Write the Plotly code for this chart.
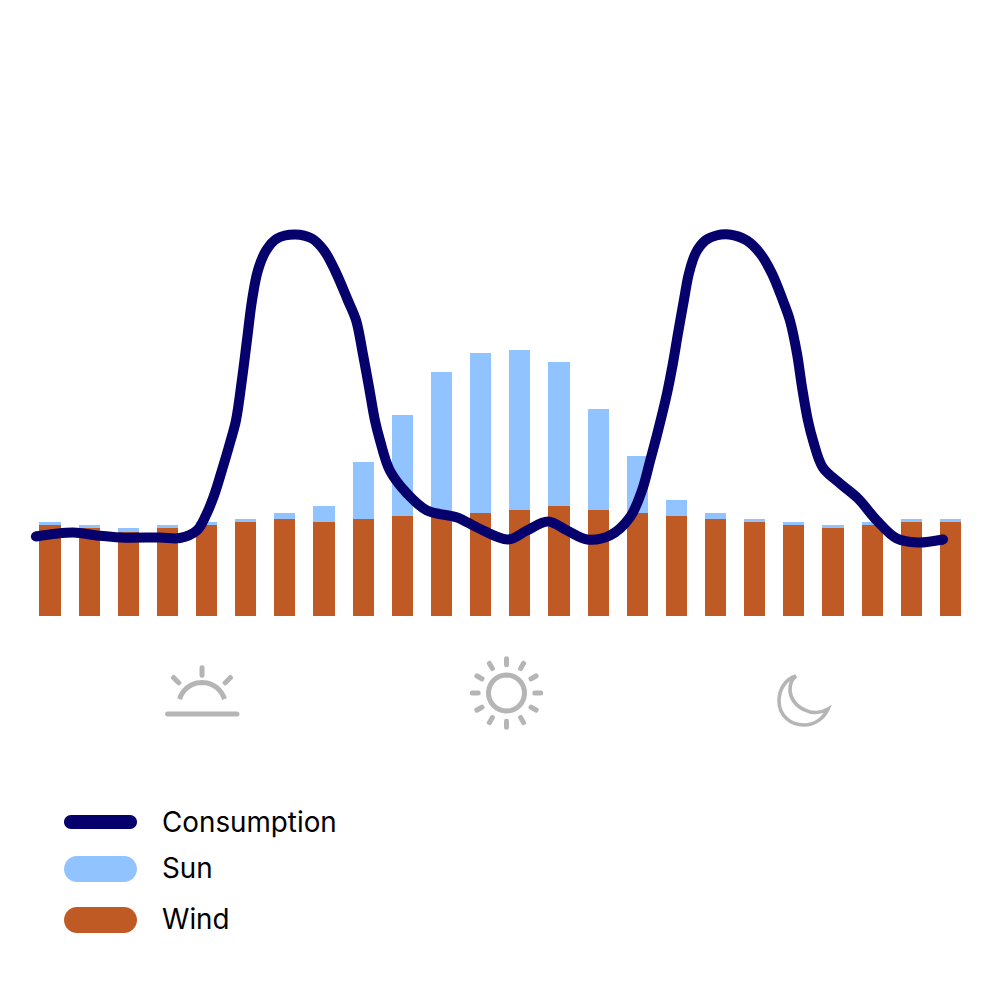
import math
import plotly.graph_objects as go

hours = list(range(24))
wind = [90.5, 87.5, 84, 87.5, 90.5, 93.5, 96.5, 93.5, 96.5, 99.5, 101, 103, 106, 109.5, 106, 103, 99.5, 96.5, 93.5, 90.5, 88, 90.5, 93.5, 93.5]
sun = [3, 3, 3.5, 3, 3, 3, 6, 16, 57, 101, 142.5, 159.5, 159.5, 144, 100.5, 56.5, 16, 6, 3, 3, 2.5, 3, 3, 3]
line_hours = [-0.36, 0.59, 1.20, 1.79, 2.81, 3.32, 3.75, 3.98, 4.19, 4.39, 4.60, 4.75, 4.90, 5.03, 5.16, 5.31,
              5.52, 5.80, 6.26, 6.69, 7.00, 7.28, 7.61, 7.82, 7.99, 8.15, 8.30, 8.43, 8.68, 9.12, 9.63,
              10.40, 10.91, 11.70, 12.18, 12.72, 13.21, 13.72, 14.30, 14.81, 15.12, 15.33, 15.50, 15.76,
              15.91, 16.04, 16.19, 16.32, 16.50, 16.74, 17.02, 17.35, 17.80, 18.14, 18.44, 18.72, 18.90, 19.08,
              19.21, 19.36, 19.49, 19.74, 20.18, 20.64, 21.12, 21.63, 22.15, 22.81]
consumption = [79, 83, 80, 78, 78, 77.5, 85, 100, 120, 145, 173, 195, 235, 275, 315, 345,
               365, 377, 381, 377, 365, 345, 315, 295, 262, 228, 195, 175, 145, 122, 105,
               98, 88, 76, 85, 94, 85, 76, 80, 98, 125, 155, 180, 222,
               252, 282, 315, 342, 363, 375, 380, 381, 375, 362, 342, 315, 295, 262,
               228, 195, 175, 148, 132, 117, 95, 77, 73, 76]
legend_names = ["Consumption", "Sun", "Wind"]

NAVY = "#05006C"
BLUE = "#90C3FF"
ORANGE = "#C05A24"
GREY = "#B5B5B5"
OFF = 8
SIZE = 984
BASE = 615.5


def px(x, y):
    return f"{(x-OFF)/SIZE:.5f},{1-(y-OFF)/SIZE:.5f}"


def pill(x0, x1, y0, y1, color):
    r = (y1 - y0) / 2
    k = r * 0.5523
    d = (f"M{px(x0+r,y0)} L{px(x1-r,y0)} "
         f"C{px(x1-r+k,y0)} {px(x1,y0+r-k)} {px(x1,y0+r)} "
         f"C{px(x1,y0+r+k)} {px(x1-r+k,y1)} {px(x1-r,y1)} "
         f"L{px(x0+r,y1)} "
         f"C{px(x0+r-k,y1)} {px(x0,y0+r+k)} {px(x0,y0+r)} "
         f"C{px(x0,y0+r-k)} {px(x0+r-k,y0)} {px(x0+r,y0)} Z")
    return dict(type="path", xref="paper", yref="paper", path=d, fillcolor=color, line=dict(width=0))


def stroke(d, width=4, color=GREY):
    return dict(type="path", xref="paper", yref="paper", path=d, line=dict(color=color, width=width))


def ray(cx, cy, ang, r0, r1, width=5):
    a = math.radians(ang)
    x0, y0 = cx + r0 * math.cos(a), cy + r0 * math.sin(a)
    x1, y1 = cx + r1 * math.cos(a), cy + r1 * math.sin(a)
    p = -math.sin(a) * width / 2
    q = math.cos(a) * width / 2
    ca, sa = math.cos(a) * width / 2, math.sin(a) * width / 2
    d = (f"M{px(x0+p,y0+q)} L{px(x1+p,y1+q)} "
         f"Q{px(x1+p+ca*1.3,y1+q+sa*1.3)} {px(x1+ca,y1+sa)} "
         f"Q{px(x1-p+ca*1.3,y1-q+sa*1.3)} {px(x1-p,y1-q)} "
         f"L{px(x0-p,y0-q)} "
         f"Q{px(x0-p-ca*1.3,y0-q-sa*1.3)} {px(x0-ca,y0-sa)} "
         f"Q{px(x0+p-ca*1.3,y0+q-sa*1.3)} {px(x0+p,y0+q)} Z")
    return dict(type="path", xref="paper", yref="paper", path=d, fillcolor=GREY, line=dict(width=0))


def arc(cx, cy, r, a0, a1, n=24):
    pts = []
    for i in range(n + 1):
        a = math.radians(a0 + (a1 - a0) * i / n)
        pts.append(px(cx + r * math.cos(a), cy + r * math.sin(a)))
    return "M" + " L".join(pts)


shapes = []
# sunrise icon
shapes.append(pill(165, 239.5, 711.5, 716.5, GREY))
shapes.append(stroke(arc(202, 706, 23.5, 197, 343), 5))
shapes.append(ray(202, 706, 270, 31, 38))
shapes.append(ray(202, 706, 225, 33, 40))
shapes.append(ray(202, 706, 315, 33, 40))
# sun icon
shapes.append(stroke(arc(506.5, 693, 18, 0, 360, 48) + " Z", 5))
for ang in range(0, 360, 30):
    shapes.append(ray(506.5, 693, ang, 28.5, 34))
# moon icon
moon = (f"M{px(796,676)} C{px(785,679)} {px(779,690)} {px(779,701)} "
        f"C{px(779,715)} {px(790,725)} {px(804,725)} "
        f"C{px(815,725)} {px(824,718)} {px(828,709)} "
        f"C{px(821,713)} {px(812,714)} {px(805,710)} "
        f"C{px(795,706)} {px(790,697)} {px(790,690)} "
        f"C{px(790,684)} {px(792,679)} {px(796,676)} Z")
shapes.append(stroke(moon, 3.6))
# legend swatches
shapes.append(pill(64, 137, 815, 829, NAVY))
shapes.append(pill(64, 137, 856, 882, BLUE))
shapes.append(pill(64, 137, 907, 933, ORANGE))

legend_y = [822, 868, 919]
annotations = [
    dict(text=n, xref="paper", yref="paper", x=(160 - OFF) / SIZE, y=1 - (y - OFF) / SIZE,
         xanchor="left", yanchor="middle", showarrow=False,
         font=dict(family="Inter", size=27.8, color="#000000"))
    for n, y in zip(legend_names, legend_y)
]

fig = go.Figure()
fig.add_bar(x=hours, y=wind, marker=dict(color=ORANGE, line=dict(width=0)), width=0.54, name="Wind")
fig.add_bar(x=hours, y=sun, marker=dict(color=BLUE, line=dict(width=0)), width=0.54, name="Sun")
sizes = [10] + [0] * (len(line_hours) - 2) + [10]
fig.add_scatter(x=line_hours, y=consumption, mode="lines+markers", name="Consumption",
                line=dict(color=NAVY, width=10, shape="spline", smoothing=1.0),
                marker=dict(color=NAVY, size=sizes, opacity=1, line=dict(width=0)))

fig.update_layout(
    width=SIZE, height=SIZE, margin=dict(l=0, r=0, t=0, b=0), barmode="stack",
    showlegend=False, paper_bgcolor="white", plot_bgcolor="white",
    xaxis=dict(visible=False, range=[(OFF - 50) / 39.15, (OFF + SIZE - 50) / 39.15], fixedrange=True),
    yaxis=dict(visible=False, range=[BASE - OFF - SIZE, BASE - OFF], fixedrange=True),
    shapes=shapes, annotations=annotations,
)
fig.write_html("out.html", config=dict(displayModeBar=False))
